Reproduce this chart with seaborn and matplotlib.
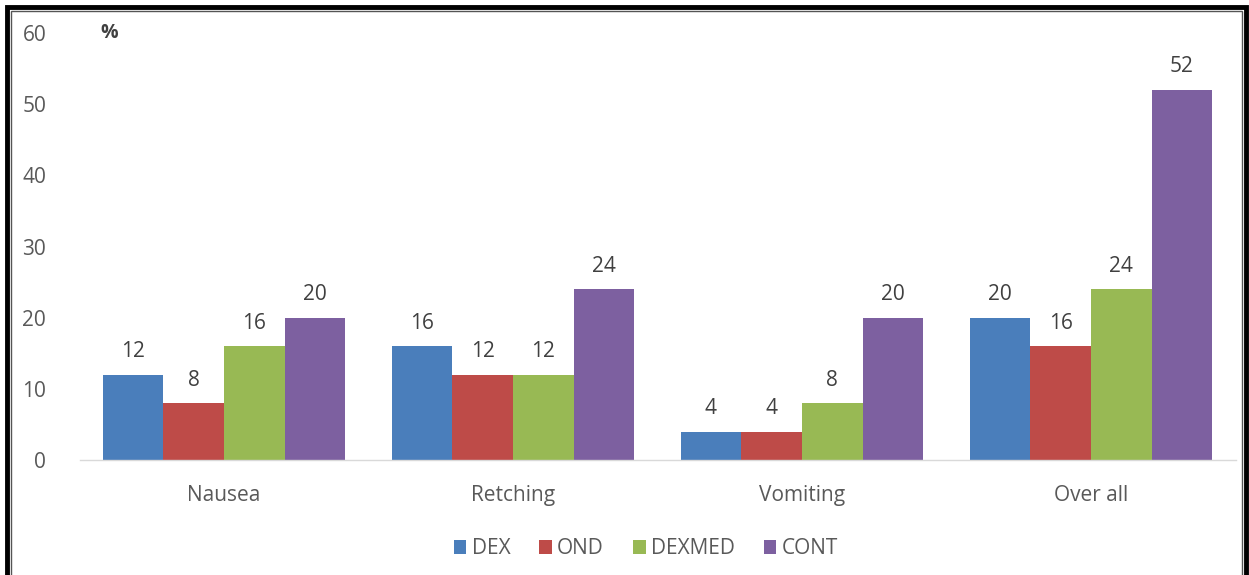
import matplotlib
matplotlib.use("Agg")
import matplotlib.pyplot as plt
import seaborn as sns
import pandas as pd
from matplotlib.patches import Rectangle

categories = ["Nausea", "Retching", "Vomiting", "Over all"]
groups = ["DEX", "OND", "DEXMED", "CONT"]
dex = [12, 16, 4, 20]
ond = [8, 12, 4, 16]
dexmed = [16, 12, 8, 24]
cont = [20, 24, 20, 52]
colors = ["#4a7ebb", "#be4b48", "#98b954", "#7d60a0"]

rows = []
for g, vals in zip(groups, [dex, ond, dexmed, cont]):
    for c, v in zip(categories, vals):
        rows.append({"cat": c, "group": g, "val": v})
df = pd.DataFrame(rows)

sns.set_theme(style="white")
plt.rcParams["font.family"] = ["Open Sans", "DejaVu Sans"]

fig = plt.figure(figsize=(12.49, 5.75), dpi=100)
ax = fig.add_axes([0.0637, 0.2, 0.9255, 0.7426])
sns.barplot(data=df, x="cat", y="val", hue="group", order=categories,
            hue_order=groups, palette=colors, width=0.84, saturation=1,
            linewidth=0, ax=ax, legend=True)
for cont_ in ax.containers:
    ax.bar_label(cont_, fmt="%g", padding=9, fontsize=15, color="#404040")

ax.set_ylim(0, 60)
ax.set_yticks(range(0, 61, 10))
ax.set_xlim(-0.5, 3.5)
ax.set_xlabel("")
ax.set_ylabel("")
for s in ["top", "right", "left"]:
    ax.spines[s].set_visible(False)
ax.spines["bottom"].set_color("#d9d9d9")
ax.spines["bottom"].set_linewidth(1)
ax.tick_params(axis="y", labelsize=15, labelcolor="#595959", length=0, pad=24)
ax.tick_params(axis="x", labelsize=15, labelcolor="#595959", length=0, pad=18)
ax.text(0.018, 1.0, "%", transform=ax.transAxes, fontsize=14,
        fontweight="bold", color="#404040", va="center", ha="left")

leg = ax.legend(loc="center", bbox_to_anchor=(0.49, -0.208), ncol=4,
                frameon=False, fontsize=15, handlelength=0.6, handleheight=0.6,
                handletextpad=0.25, columnspacing=1.4)
for t in leg.get_texts():
    t.set_color("#595959")

# double frame around figure
W, H = 1249, 575
fig.patches.append(Rectangle((7 / W, -0.05), (1246 - 7) / W, (H - 7) / H + 0.05,
                             transform=fig.transFigure, fill=False,
                             edgecolor="black", linewidth=3.5))
fig.patches.append(Rectangle((11 / W, -0.05), (1242 - 11) / W, (H - 11) / H + 0.05,
                             transform=fig.transFigure, fill=False,
                             edgecolor="#555555", linewidth=1))

fig.savefig("out.png", dpi=100)
